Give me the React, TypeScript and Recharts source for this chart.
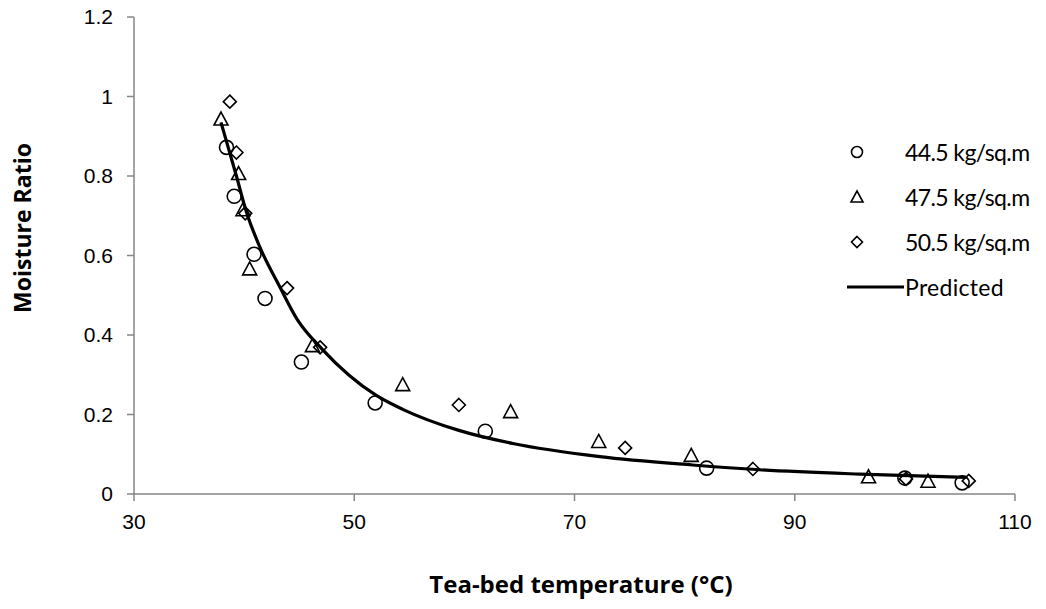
import React from 'react';
import { ComposedChart, Scatter, Line, XAxis, YAxis } from 'recharts';

const series445 = [
  { x: 38.4, y: 0.872 }, { x: 39.1, y: 0.749 }, { x: 40.9, y: 0.603 }, { x: 41.9, y: 0.492 },
  { x: 45.2, y: 0.332 }, { x: 51.9, y: 0.229 }, { x: 61.9, y: 0.158 }, { x: 82.0, y: 0.065 },
  { x: 100.0, y: 0.040 }, { x: 105.2, y: 0.028 },
];
const series475 = [
  { x: 37.9, y: 0.942 }, { x: 39.5, y: 0.805 }, { x: 39.9, y: 0.714 }, { x: 40.5, y: 0.565 },
  { x: 46.2, y: 0.372 }, { x: 54.4, y: 0.274 }, { x: 64.2, y: 0.206 }, { x: 72.2, y: 0.131 },
  { x: 80.6, y: 0.096 }, { x: 96.7, y: 0.042 }, { x: 102.1, y: 0.031 },
];
const series505 = [
  { x: 38.7, y: 0.987 }, { x: 39.3, y: 0.859 }, { x: 40.1, y: 0.706 }, { x: 43.9, y: 0.518 },
  { x: 46.9, y: 0.369 }, { x: 59.5, y: 0.224 }, { x: 74.6, y: 0.116 }, { x: 86.2, y: 0.063 },
  { x: 100.1, y: 0.038 }, { x: 105.8, y: 0.033 },
];
const predicted = [
  { x: 37.9, y: 0.935 }, { x: 39.3, y: 0.8 }, { x: 40.2, y: 0.71 }, { x: 41.4, y: 0.623 },
  { x: 43.2, y: 0.523 }, { x: 44.8, y: 0.44 }, { x: 47.1, y: 0.364 }, { x: 52.0, y: 0.248 },
  { x: 54.4, y: 0.213 }, { x: 59.5, y: 0.16 }, { x: 64.4, y: 0.127 }, { x: 72.3, y: 0.094 },
  { x: 80.7, y: 0.073 }, { x: 86.8, y: 0.061 }, { x: 95.9, y: 0.05 }, { x: 105.6, y: 0.042 },
];
const xTicks = [30, 50, 70, 90, 110];
const yTicks = [0, 0.2, 0.4, 0.6, 0.8, 1, 1.2];
const legendNames = ['44.5 kg/sq.m', '47.5 kg/sq.m', '50.5 kg/sq.m', 'Predicted'];

const SW = 1.6;
const circleShape = (p: any) => (
  <circle cx={p.cx} cy={p.cy} r={7} fill="none" stroke="#000" strokeWidth={SW} />
);
const triangleShape = (p: any) => (
  <polygon
    points={`${p.cx},${p.cy - 7.5} ${p.cx + 7},${p.cy + 5.5} ${p.cx - 7},${p.cy + 5.5}`}
    fill="none" stroke="#000" strokeWidth={SW} strokeLinejoin="miter"
  />
);
const diamondShape = (p: any) => (
  <polygon
    points={`${p.cx},${p.cy - 6.5} ${p.cx + 6.5},${p.cy} ${p.cx},${p.cy + 6.5} ${p.cx - 6.5},${p.cy}`}
    fill="none" stroke="#000" strokeWidth={SW}
  />
);

const legendIcon = (i: number) => {
  if (i === 0) return <svg width={60} height={20}><circle cx={12} cy={10} r={5.5} fill="none" stroke="#000" strokeWidth={1.6} /></svg>;
  if (i === 1) return <svg width={60} height={20}><polygon points="12,4 18,15 6,15" fill="none" stroke="#000" strokeWidth={1.6} /></svg>;
  if (i === 2) return <svg width={60} height={20}><polygon points="12,4.5 17.5,10 12,15.5 6.5,10" fill="none" stroke="#000" strokeWidth={1.6} /></svg>;
  return <svg width={60} height={20}><line x1={2} y1={10} x2={59} y2={10} stroke="#000" strokeWidth={3.2} /></svg>;
};

const tickFont = { fill: '#000', fontSize: 21, fontFamily: '"Liberation Sans", Arial, sans-serif' };

export default function App() {
  return (
    <div style={{ position: 'relative', width: 1038, height: 601, marginTop: -8, marginLeft: -8 }}>
      <ComposedChart width={1038} height={601} margin={{ top: 17, right: 23, left: 68, bottom: 77 }}>
        <XAxis
          type="number" dataKey="x" domain={[30, 110]} ticks={xTicks} interval={0}
          stroke="#868686" strokeWidth={1.5} tickSize={7} tickMargin={13} height={30}
          tick={tickFont}
          label={{
            content: () => (
              <text x={581} y={593} textAnchor="middle" fontFamily='"Open Sans", Lato, sans-serif'
                fontWeight="bold" fontSize={24} fill="#000">Tea-bed temperature (°C)</text>
            ),
          }}
        />
        <YAxis
          type="number" domain={[0, 1.2]} ticks={yTicks} interval={0} width={66}
          stroke="#868686" strokeWidth={1.5} tickSize={7} tickMargin={14}
          tick={tickFont}
          label={{
            content: () => (
              <text x={22} y={228} textAnchor="middle" transform="rotate(-90 22 228)"
                dominantBaseline="central" fontFamily='"Open Sans", Lato, sans-serif'
                fontWeight="bold" fontSize={23} fill="#000">Moisture Ratio</text>
            ),
          }}
        />
        <Line data={predicted} dataKey="y" type="monotone" stroke="#000" strokeWidth={3.2}
          dot={false} isAnimationActive={false} />
        <Scatter data={series445} dataKey="y" shape={circleShape} isAnimationActive={false} />
        <Scatter data={series475} dataKey="y" shape={triangleShape} isAnimationActive={false} />
        <Scatter data={series505} dataKey="y" shape={diamondShape} isAnimationActive={false} />
      </ComposedChart>
      <div style={{ position: 'absolute', left: 845, top: 129, fontFamily: 'Lato, "Open Sans", sans-serif', fontSize: 23, color: '#000' }}>
        {legendNames.map((n, i) => (
          <div key={n} style={{ display: 'flex', alignItems: 'center', height: 45, whiteSpace: 'nowrap' }}>
            {legendIcon(i)}
            <span style={{ letterSpacing: i === 3 ? 0.3 : -0.6 }}>{n}</span>
          </div>
        ))}
      </div>
    </div>
  );
}
